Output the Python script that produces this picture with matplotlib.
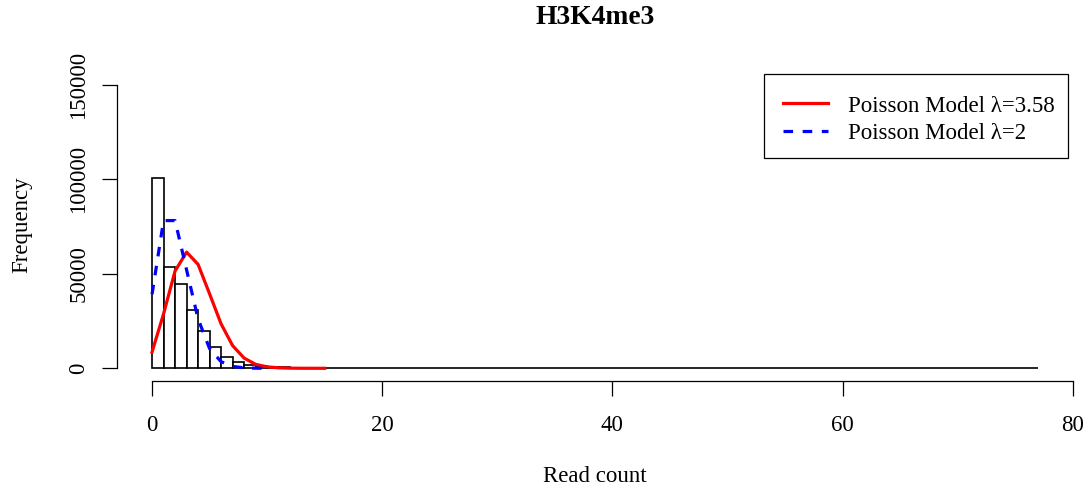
import matplotlib.pyplot as plt
from matplotlib.patches import Rectangle

plt.rcParams['font.family'] = ['Liberation Serif', 'DejaVu Serif']

# histogram bins: [k, k+1) for k = 0..76, counts
bin_left = list(range(77))
counts = [100600, 53500, 44700, 31100, 19600, 11200, 6100, 3500, 1900, 1100,
          700, 460, 320, 240, 180, 140, 110, 90, 75, 62,
          52, 45, 38, 33, 28, 24, 21, 18, 16, 14,
          12, 11, 10, 9, 8, 7, 7, 6, 6, 5,
          5, 4, 4, 4, 3, 3, 3, 3, 2, 2,
          2, 2, 2, 2, 1, 1, 1, 1, 1, 1,
          1, 1, 1, 1, 1, 1, 1, 1, 1, 1,
          1, 1, 1, 1, 1, 1, 1]

# Poisson model curves
red_x = list(range(16))
red_y = [8600, 28800, 51500, 61500, 55000, 39400, 23500, 12000, 5400, 2100,
         770, 250, 75, 20, 5, 1]
blue_x = list(range(11))
blue_y = [39200, 78200, 78200, 52100, 26100, 10400, 3500, 1000, 250, 55, 11]

xticks = [0, 20, 40, 60, 80]
yticks = [0, 50000, 100000, 150000]

W, H = 1091, 496
fig = plt.figure(figsize=(W / 100, H / 100), dpi=100)
left, right, bottom, top = 116.6, 1073.7, 380.5, 51
ax = fig.add_axes([left / W, (H - bottom) / H, (right - left) / W, (bottom - top) / H])

ax.bar(bin_left, counts, width=1, align='edge', color='white',
       edgecolor='black', linewidth=1.2)
ax.plot(red_x, red_y, color='red', lw=2.3, label='Poisson Model λ=3.58')
ax.plot(blue_x, blue_y, color='blue', lw=2.3, dashes=(3, 3),
        label='Poisson Model λ=2')

ax.set_xlim(-3.08, 80.08)
ax.set_ylim(-6460, 167960)
ax.set_xticks(xticks)
ax.set_yticks(yticks)
ax.set_xticklabels([str(t) for t in xticks])
ax.set_yticklabels([str(t) for t in yticks])

for s in ['top', 'right']:
    ax.spines[s].set_visible(False)
ax.spines['left'].set_bounds(0, 150000)
ax.spines['bottom'].set_bounds(0, 80)
for s in ['left', 'bottom']:
    ax.spines[s].set_linewidth(0.9)

ax.tick_params(axis='both', direction='out', length=10.5, width=0.9,
               labelsize=16.5)
ax.tick_params(axis='x', pad=14)
ax.tick_params(axis='y', labelrotation=90, pad=9)
for lab in ax.get_yticklabels():
    lab.set_va('center')

fig.text(595 / W, (H - 17) / H, 'H3K4me3', ha='center', va='center',
         fontsize=19.8, fontweight='bold')
fig.text(595 / W, (H - 477) / H, 'Read count', ha='center', va='center',
         fontsize=16.5)
fig.text(22 / W, (H - 225) / H, 'Frequency', ha='center', va='center',
         fontsize=16.5, rotation=90)

# legend: entries via matplotlib, frame drawn to the reference size
leg = ax.legend(loc='upper left', bbox_to_anchor=(764 / W, (H - 76) / H),
                bbox_transform=fig.transFigure, frameon=False, fontsize=16.5,
                handlelength=1.95, handletextpad=0.85, borderpad=0.85,
                labelspacing=0.3, borderaxespad=0)
fig.patches.append(Rectangle((764 / W, (H - 158) / H), (1068 - 764) / W,
                             (158 - 74) / H, transform=fig.transFigure,
                             fill=False, edgecolor='black', linewidth=0.9))

fig.savefig('out.png', dpi=100)
